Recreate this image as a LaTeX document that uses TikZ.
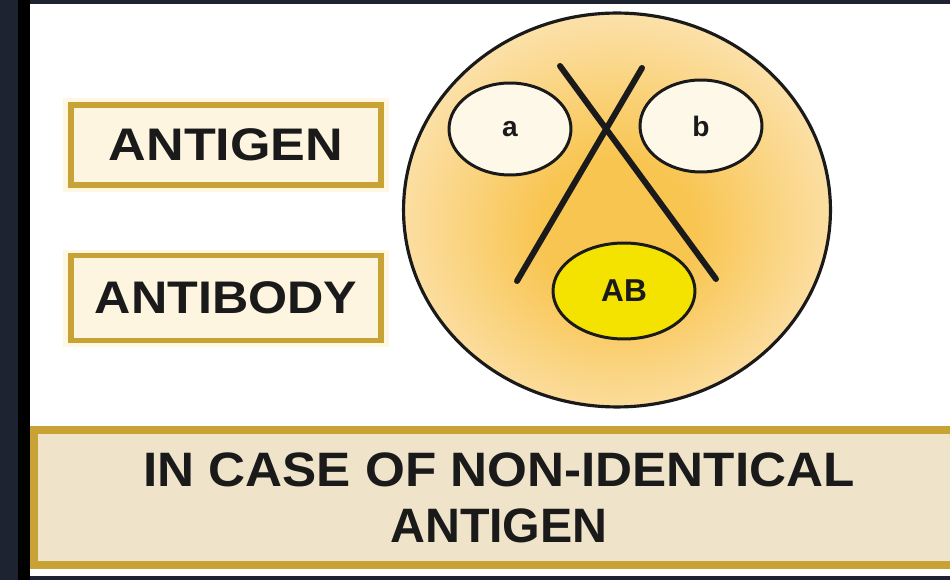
\documentclass[tikz,border=0pt]{standalone}
\usepackage{fontspec}
\setmainfont{Liberation Sans}
\usetikzlibrary{shapes.geometric}
\definecolor{frame}{HTML}{1D2331}
\definecolor{gold}{HTML}{C9A235}
\definecolor{cream}{HTML}{FDF5E0}
\definecolor{halo}{HTML}{FEF7E2}
\definecolor{banner}{HTML}{EFE3C9}
\definecolor{glowin}{HTML}{F9C551}
\definecolor{glowout}{HTML}{FCEBCB}
\definecolor{abfill}{HTML}{F4E200}
\definecolor{ink}{HTML}{1A1A1A}
\pgfdeclareradialshading{plateglow}{\pgfpoint{0bp}{-3bp}}{%
  color(0bp)=(glowin); color(9bp)=(glowin);
  color(33bp)=(glowout); color(50bp)=(glowout)}
\tikzset{
  labelbox/.style={draw=gold, line width=3.4pt, fill=cream,
    minimum width=6.2cm, minimum height=1.6cm, inner sep=0pt,
    font=\fontsize{26}{31}\selectfont\bfseries, text=ink},
  antigen/.style={ellipse, draw=ink, line width=1.7pt, fill=cream!70!white,
    minimum width=2.44cm, minimum height=1.84cm, inner sep=0pt,
    font=\fontsize{16}{18}\selectfont\bfseries, text=ink},
  band/.style={line width=3.4pt, line cap=round, draw=ink}
}
\begin{document}
\begin{tikzpicture}[x=0.02cm,y=-0.02cm]
  % frame and page
  \fill[frame] (0,0) rectangle (950,580);
  \fill[black] (18,0) rectangle (30,580);
  \fill[white] (30,4) rectangle (950,576);
  \useasboundingbox (0,0) rectangle (950,580);

  % left labels
  \fill[halo] (63,98) rectangle (389,192);
  \fill[halo] (63,250) rectangle (389,347);
  \node[labelbox] (antigen) at (226,145) {\scalebox{1.14}[1]{ANTIGEN}};
  \node[labelbox, minimum height=1.7cm] (antibody) at (226,298)
    {\scalebox{1.1}[1]{ANTIBODY}};

  % the plate
  \node[ellipse, draw=ink, line width=1.8pt, shading=plateglow,
    minimum width=8.54cm, minimum height=7.88cm] (plate) at (617,210) {};
  \node[antigen] (a) at (510,129) {a};
  \node[antigen] (b) at (701,126) {b};
  \node[antigen, fill=abfill, minimum width=2.84cm, minimum height=1.92cm,
    font=\fontsize{18}{20}\selectfont\bfseries] (ab) at (624,291) {AB};
  \coordinate (l1) at (560,66);
  \coordinate (l2) at (517,281);
  \coordinate (r1) at (642,68);
  \coordinate (r2) at (716,279);
  \draw[band] (l1) -- (r2);
  \draw[band] (r1) -- (l2);

  % caption banner
  \node[draw=gold, line width=4.6pt, fill=banner, anchor=north west,
    minimum width=18.6cm, minimum height=2.7cm, inner sep=0pt,
    align=center, text=ink, font=\fontsize{27.5}{32}\selectfont\bfseries]
    (caption) at (30,426)
    {\scalebox{1.06}[1]{IN CASE OF NON-IDENTICAL}\\ANTIGEN};
\end{tikzpicture}
\end{document}
